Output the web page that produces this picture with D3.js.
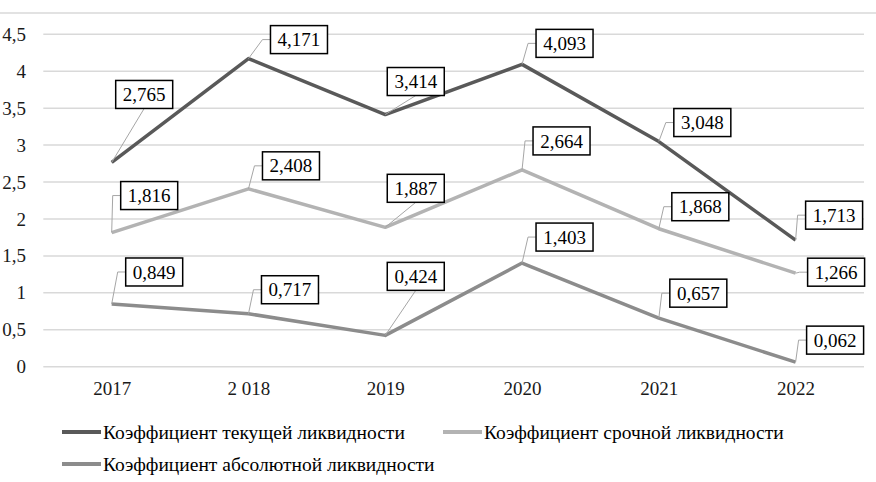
<html>
	<head>
		<meta charset="utf-8">
		<title>Коэффициенты ликвидности</title>
		<style>
			html, body { margin: 0; background: #fff; }
			body { width: 876px; height: 482px; }
		</style>
	</head>
	<body>
		<div id="chart"></div>
		<script src="https://cdn.jsdelivr.net/npm/d3@7/dist/d3.min.js"></script>
		<script>
			// data
			var years = ["2017", "2 018", "2019", "2020", "2021", "2022"]
			var currentRatio = [2.765, 4.171, 3.414, 4.093, 3.048, 1.713]
			var quickRatio = [1.816, 2.408, 1.887, 2.664, 1.868, 1.266]
			var absoluteRatio = [0.849, 0.717, 0.424, 1.403, 0.657, 0.062]
			var yTicks = [0, 0.5, 1, 1.5, 2, 2.5, 3, 3.5, 4, 4.5]
			var seriesNames = ["Коэффициент текущей ликвидности", "Коэффициент срочной ликвидности", "Коэффициент абсолютной ликвидности"]

			// label box offsets from the point (layout only)
			var labelPos = [
				[[4, -82, "b"], [22, -33, "e"], [2, -47, "b"], [14, -35, "e"], [15, -33, "e"], [10, -39, "e"]],
				[[9, -51, "e"], [14, -37, "e"], [2, -53, "b"], [11, -43, "e"], [13, -36, "e"], [12, -15, "e"]],
				[[14, -46, "e"], [13, -38, "e"], [2, -73, "b"], [14, -40, "e"], [11, -39, "e"], [11, -36, "e"]]
			]

			var colors = ["#595959", "#b3b3b3", "#8c8c8c"]
			var series = [currentRatio, quickRatio, absoluteRatio]
			var serif = "'Liberation Serif', 'Times New Roman', serif"

			var chartW = 876, chartH = 482
			var mLeft = 43.3, mRight = 864, mTop = 34.3, mBottom = 366.7

			var svg = d3.select("#chart").append("svg")
				.attr("width", chartW)
				.attr("height", chartH)
				.style("font-family", serif)

			// top border line
			svg.append("line")
				.attr("x1", 0).attr("x2", chartW)
				.attr("y1", 13).attr("y2", 13)
				.attr("stroke", "#d9d9d9").attr("stroke-width", 1.5)

			var x = d3.scalePoint().domain(years).range([mLeft, mRight]).padding(0.5)
			var y = d3.scaleLinear().domain([0, 4.5]).range([mBottom, mTop])

			// grid
			svg.append("g").selectAll("line")
				.data(yTicks)
				.enter().append("line")
				.attr("x1", mLeft).attr("x2", mRight)
				.attr("y1", function(d) { return y(d) }).attr("y2", function(d) { return y(d) })
				.attr("stroke", "#d9d9d9").attr("stroke-width", 1.5)

			var yAxis = svg.append("g")
				.attr("transform", "translate(26,0)")
				.call(d3.axisLeft(y).tickValues(yTicks).tickSize(0).tickPadding(0)
					.tickFormat(function(d) { return String(d).replace(".", ",") }))
			yAxis.select(".domain").remove()
			yAxis.selectAll("text")
				.style("font-family", serif)
				.style("font-size", "19px")
				.attr("fill", "#1a1a1a")

			var xAxis = svg.append("g")
				.attr("transform", "translate(0," + mBottom + ")")
				.call(d3.axisBottom(x).tickSize(0).tickPadding(15))
			xAxis.select(".domain").remove()
			xAxis.selectAll("text")
				.style("font-family", serif)
				.style("font-size", "19px")
				.attr("fill", "#1a1a1a")

			var line = d3.line()
				.x(function(d, i) { return x(years[i]) })
				.y(function(d) { return y(d) })

			series.forEach(function(s, k) {
				svg.append("path")
					.attr("d", line(s))
					.attr("fill", "none")
					.attr("stroke", colors[k])
					.attr("stroke-width", 3.5)
					.attr("stroke-linejoin", "round")
			})

			var boxW = 57, boxH = 28
			series.forEach(function(s, k) {
				var g = svg.append("g")
				s.forEach(function(v, i) {
					var px = x(years[i]), py = y(v)
					var p = labelPos[k][i]
					var bx = px + p[0], by = py + p[1]
					var pts
					if (p[2] === "b") {
						pts = [[px, py], [bx + boxW / 2, by + boxH]]
					} else {
						pts = [[px, py], [bx - 8, by + boxH / 2], [bx, by + boxH / 2]]
					}
					g.append("path")
						.attr("d", d3.line()(pts))
						.attr("fill", "none")
						.attr("stroke", "#a6a6a6")
						.attr("stroke-width", 1)
					g.append("rect")
						.attr("x", bx).attr("y", by)
						.attr("width", boxW).attr("height", boxH)
						.attr("fill", "#fff")
						.attr("stroke", "#000")
						.attr("stroke-width", 1.5)
					g.append("text")
						.attr("x", bx + boxW / 2)
						.attr("y", by + boxH / 2)
						.attr("dy", "0.35em")
						.attr("text-anchor", "middle")
						.style("font-family", serif)
						.style("font-size", "19px")
						.text(v.toFixed(3).replace(".", ","))
				})
			})

			// legend
			var legendPos = [[62, 432], [443, 432], [62, 464]]
			seriesNames.forEach(function(name, k) {
				var lp = legendPos[k]
				svg.append("line")
					.attr("x1", lp[0]).attr("x2", lp[0] + 39)
					.attr("y1", lp[1]).attr("y2", lp[1])
					.attr("stroke", colors[k])
					.attr("stroke-width", 4)
				svg.append("text")
					.attr("x", lp[0] + 41)
					.attr("y", lp[1])
					.attr("dy", "0.35em")
					.style("font-family", serif)
					.style("font-size", "19.5px")
					.text(name)
			})
		</script>
	</body>
</html>
